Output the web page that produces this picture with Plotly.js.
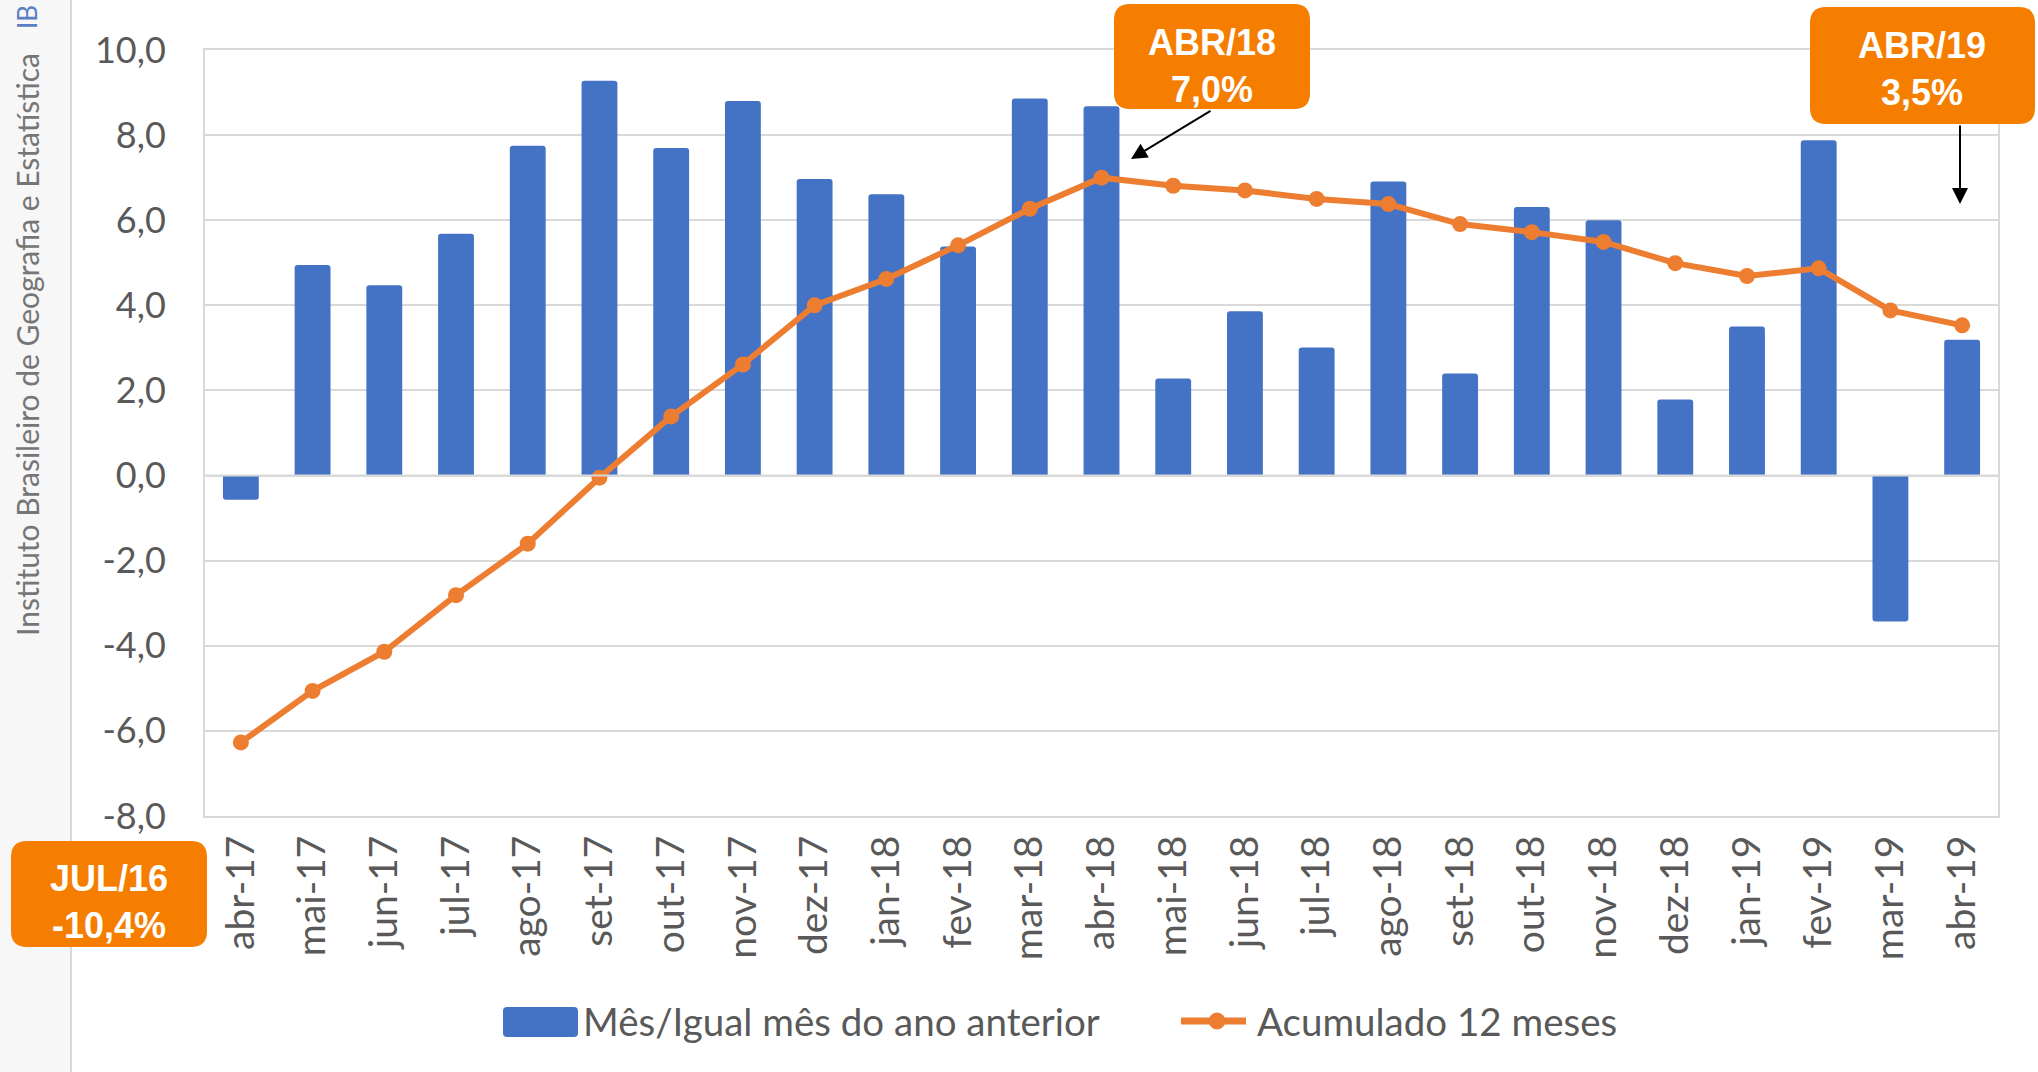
<!DOCTYPE html>
<html>
<head>
<meta charset="utf-8">
<script src="https://cdn.plot.ly/plotly-3.0.1.min.js"></script>
<style>html,body{margin:0;padding:0;background:#fff;}#chart{width:2038px;height:1072px;}</style>
</head>
<body>
<div id="chart"></div>
<script>
// ---- data ----
const categories = ['abr-17','mai-17','jun-17','jul-17','ago-17','set-17','out-17','nov-17','dez-17','jan-18','fev-18','mar-18','abr-18','mai-18','jun-18','jul-18','ago-18','set-18','out-18','nov-18','dez-18','jan-19','fev-19','mar-19','abr-19'];
const mesIgualMes = [-0.57,4.95,4.47,5.68,7.75,9.28,7.70,8.80,6.97,6.61,5.38,8.86,8.68,2.28,3.86,3.01,6.91,2.40,6.31,6.00,1.79,3.50,7.88,-3.43,3.19];
const acumulado12 = [-6.27,-5.06,-4.14,-2.81,-1.60,-0.05,1.39,2.61,4.00,4.62,5.41,6.27,7.00,6.81,6.70,6.50,6.38,5.91,5.72,5.49,4.99,4.69,4.87,3.88,3.53];
const yTickVals = [-8,-6,-4,-2,0,2,4,6,8,10];
const yTickText = ['-8,0','-6,0','-4,0','-2,0','0,0','2,0','4,0','6,0','8,0','10,0'];
const seriesNames = ['Mês/Igual mês do ano anterior','Acumulado 12 meses'];
const callouts = [
  {text:'ABR/18<br>7,0%'},
  {text:'ABR/19<br>3,5%'},
  {text:'JUL/16<br>-10,4%'}
];
const sourceText = 'Instituto Brasileiro de Geografia e Estatística';
const logoText = 'IB';

// ---- geometry helpers (page pixels) ----
const L = 205, R = 1998, T = 50, B = 816;
const px = x => x - L;
const py = y => B - y;
const fx = x => (x - L) / (R - L);
const fy = y => (B - y) / (B - T);
function pixShape(o){
  return Object.assign({xref:'paper', yref:'paper', xsizemode:'pixel', ysizemode:'pixel', xanchor:0, yanchor:0}, o);
}
function rr(x0,y0,x1,y1,r){
  const a=px(x0), b=px(x1), top=py(y0), bot=py(y1);
  return `M${a+r},${top} L${b-r},${top} Q${b},${top} ${b},${top-r} L${b},${bot+r} Q${b},${bot} ${b-r},${bot} L${a+r},${bot} Q${a},${bot} ${a},${bot+r} L${a},${top-r} Q${a},${top} ${a+r},${top} Z`;
}

const BLUE = '#4472C4', ORANGE = '#ED7D31', BOX = '#F57D00', GRID = '#D9D9D9', TXT = '#595959';

const traces = [
  {type:'bar', x:categories, y:mesIgualMes, name:seriesNames[0],
   marker:{color:BLUE, cornerradius:3, line:{width:0}}, hoverinfo:'x+y'},
  {type:'scatter', mode:'lines+markers', x:categories, y:acumulado12, name:seriesNames[1],
   line:{color:ORANGE, width:6}, marker:{color:ORANGE, size:16}}
];

const shapes = [
  // left strip
  pixShape({type:'rect', x0:px(0), x1:px(71), y0:py(1072), y1:py(0), fillcolor:'#F7F7F7', line:{width:0}, layer:'below'}),
  pixShape({type:'line', x0:px(71), x1:px(71), y0:py(1072), y1:py(0), line:{color:GRID, width:2}}),
  // zero line over bars
  {type:'line', xref:'paper', yref:'y', x0:0, x1:1, y0:0, y1:0, line:{color:GRID, width:2}, layer:'above'},
  // callout boxes
  pixShape({type:'path', path:rr(1114,4,1310,109,16), fillcolor:BOX, line:{width:0}}),
  pixShape({type:'path', path:rr(1810,7,2035,124,16), fillcolor:BOX, line:{width:0}}),
  pixShape({type:'path', path:rr(11,841,207,947,16), fillcolor:BOX, line:{width:0}}),
  // legend symbols
  pixShape({type:'path', path:rr(503,1007,578,1037,4), fillcolor:BLUE, line:{width:0}}),
  pixShape({type:'line', x0:px(1181), x1:px(1246), y0:py(1021), y1:py(1021), line:{color:ORANGE, width:7}}),
  pixShape({type:'circle', x0:px(1209), x1:px(1225), y0:py(1029), y1:py(1013), fillcolor:ORANGE, line:{color:ORANGE, width:1}})
];

const boxFont = {family:'Liberation Sans, Arial, sans-serif', size:36, color:'#FFFFFF', weight:700};
const labelFont = {family:'Lato, sans-serif', size:38.5, color:TXT};

const annotations = [
  {xref:'paper', yref:'paper', x:fx(1212), y:fy(66), text:callouts[0].text, showarrow:false, font:boxFont, xanchor:'center', yanchor:'middle'},
  {xref:'paper', yref:'paper', x:fx(1922), y:fy(69), text:callouts[1].text, showarrow:false, font:boxFont, xanchor:'center', yanchor:'middle'},
  {xref:'paper', yref:'paper', x:fx(109), y:fy(902), text:callouts[2].text, showarrow:false, font:boxFont, xanchor:'center', yanchor:'middle'},
  // arrows
  {xref:'paper', yref:'paper', x:fx(1131), y:fy(159), ax:81, ay:-49, text:'', showarrow:true, arrowhead:2, arrowsize:1.6, arrowwidth:2, arrowcolor:'#000', standoff:0, startstandoff:0},
  {xref:'paper', yref:'paper', x:fx(1960), y:fy(204), ax:0, ay:-80, text:'', showarrow:true, arrowhead:2, arrowsize:1.6, arrowwidth:2, arrowcolor:'#000', standoff:0, startstandoff:0},
  // legend labels
  {xref:'paper', yref:'paper', x:fx(581), y:fy(1021), text:seriesNames[0], showarrow:false, font:labelFont, xanchor:'left', yanchor:'middle'},
  {xref:'paper', yref:'paper', x:fx(1255), y:fy(1021), text:seriesNames[1], showarrow:false, font:labelFont, xanchor:'left', yanchor:'middle'},
  // left strip texts
  {xref:'paper', yref:'paper', x:fx(27), y:fy(345), text:sourceText, textangle:-90, showarrow:false, font:{family:'Lato, sans-serif', size:30, color:'#767676'}, xanchor:'center', yanchor:'middle'},
  {xref:'paper', yref:'paper', x:fx(27), y:fy(31), text:logoText, textangle:-90, showarrow:false, font:{family:'Lato, sans-serif', size:26, color:'#5B7FC4'}, xanchor:'center', yanchor:'bottom'}
];

const layout = {
  width:2038, height:1072,
  margin:{l:L, r:2038-R, t:T, b:1072-B, pad:0},
  paper_bgcolor:'#FFFFFF', plot_bgcolor:'#FFFFFF',
  showlegend:false,
  bargap:0.5,
  font:{family:'Lato, sans-serif', color:TXT},
  xaxis:{type:'category', range:[-0.5, categories.length-0.5], tickangle:-90, tickfont:{family:'Lato, sans-serif', size:39, color:TXT},
         showgrid:false, showline:true, mirror:true, linecolor:GRID, linewidth:2, ticks:'', ticklabelstandoff:2,
         zeroline:false, fixedrange:true},
  yaxis:{range:[-8,10], tickvals:yTickVals, ticktext:yTickText, tickfont:{family:'Lato, sans-serif', size:36, color:TXT},
         showgrid:true, gridcolor:GRID, gridwidth:2, showline:true, mirror:true, linecolor:GRID, linewidth:2,
         ticks:'', ticklabelstandoff:30, zeroline:false, fixedrange:true},
  shapes:shapes,
  annotations:annotations
};

Plotly.newPlot('chart', traces, layout, {displayModeBar:false, staticPlot:true});
</script>
</body>
</html>
